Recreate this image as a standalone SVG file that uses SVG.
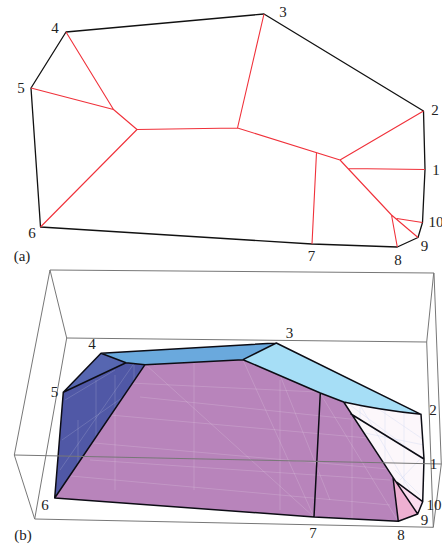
<svg xmlns="http://www.w3.org/2000/svg" width="442" height="544" viewBox="0 0 442 544">
<style>
text{font-family:"Liberation Serif","Times New Roman",serif;font-size:15px;fill:#222;text-anchor:middle}
.k{fill:none;stroke:#111;stroke-width:1.3;stroke-linejoin:round}
.r{fill:none;stroke:#f0313a;stroke-width:1.1;stroke-linejoin:round}
.b{fill:none;stroke:#777;stroke-width:1}
.g{fill:none;stroke:#fff;stroke-width:.7;opacity:.22}
.gb{fill:none;stroke:#c8d4f0;stroke-width:.7;opacity:.5}
.e{fill:none;stroke:#0c0c14;stroke-width:1.5;stroke-linejoin:round;stroke-linecap:round}
</style>
<defs>
<clipPath id="cp"><path d="M145 364.7L243 359.7L320.3 393L343.7 402L393 477.3L398.3 521.3L314 517L54.7 498Z"/></clipPath>
<clipPath id="cb"><path d="M63.3 392.3L126 362.7L145 364.7L54.7 498Z"/></clipPath>
<clipPath id="cw"><path d="M343.7 402Q380 410 421 414.3L424 459L422.7 501.7L397 482.3L393 477.3Z"/></clipPath>
</defs>
<g id="panel-a">
<g id="outline-a"><path class="k" d="M66 32L264 14L423.5 111L425 169.5L422.5 222.5L418 237.5L397.3 247L312 244L40.5 227L31 88Z"/></g>
<g id="skeleton-a"><path class="r" d="M66 32L113.5 109.5M31 88L113.5 109.5L137 129.5L237.5 128L340 160L423.5 111M40.5 227L137 129.5M264 14L237.5 128M316.5 152.5L312 244M340 160L391.5 215L418 237.5M348 168.5L425 169.5M391.5 215L397.3 247M396.7 218.5L422.5 222.5"/></g>
<text x="55" y="33">4</text><text x="21" y="93">5</text><text x="32" y="238">6</text><text x="22" y="261">(a)</text>
<text x="283" y="17">3</text><text x="435" y="115">2</text><text x="436" y="175">1</text><text x="436" y="227">10</text><text x="424.5" y="251">9</text><text x="398" y="265">8</text><text x="311.5" y="261">7</text>
</g>
<g id="panel-b">
<g id="box-back"><path class="b" d="M50 270L434 273L441.3 464L433.3 527.3L34.7 519L14.3 455L50 270L66.7 338L426.7 342L433.7 273M66.7 338L34.7 519M426.7 342L433.3 527.3"/></g>
<g id="faces">
<path id="face-top" fill="#6aa9dd" d="M101 353.3L276.3 343L243 359.7L145 364.7L126 362.7Z"/>
<path id="face-upper-right" fill="#a6def6" d="M276.3 343L421 414.3Q380 410 343.7 402L320.3 393L243 359.7Z"/>
<path id="face-left-upper" fill="#5666b1" d="M101 353.3L126 362.7L63.3 392.3Z"/>
<path id="face-left" fill="#5058a6" d="M63.3 392.3L126 362.7L145 364.7L54.7 498Z"/>
<path id="face-main" fill="#b884bb" d="M145 364.7L243 359.7L320.3 393L343.7 402L393 477.3L398.3 521.3L314 517L54.7 498Z"/>
<path id="face-right" fill="#fcf7fb" d="M343.7 402Q380 410 421 414.3L424 459L422.7 501.7L397 482.3L393 477.3Z"/>
<path id="face-pink" fill="#eeb0d2" d="M393 477.3L397 482.3L417.7 514L398.3 521.3Z"/>
<path id="face-pale" fill="#fbdcee" d="M397 482.3L422.7 501.7L417.7 514Z"/>
</g>
<g id="facets">
<g clip-path="url(#cp)"><path class="g" d="M60 440L400 470M90 460L390 480M110 415L390 440M130 383L380 395M140 397L360 420M60 475L390 505M145 364L314 517M243 360L314 517M280 375L330 500M320 393L398 521M194 362V490M115 390V490M280 380V510M352 420V520"/></g>
<g clip-path="url(#cb)"><path class="g" d="M62 440L126 395M60 470L135 362M78 420V490M96 380V480M115 375V440M134 365V420M65 400L115 370"/></g>
<g clip-path="url(#cw)"><path class="gb" d="M350 405L424 460M380 410L424 440M400 480L424 455M395 470L420 495M360 405L410 490M360 405V440M385 410V480M404 412V490M350 430L424 445"/></g>
</g>
<g id="edges-b"><path class="e" d="M101 353.3L276.3 343L421 414.3L424 459L422.7 501.7L417.7 514L398.3 521.3L314 517L54.7 498L63.3 392.3L101 353.3L126 362.7L145 364.7L243 359.7L276.3 343M63.3 392.3L126 362.7M54.7 498L145 364.7M243 359.7L320.3 393L343.7 402Q380 410 421 414.3M343.7 402L393 477.3L417.7 514M320.3 393L314 517M393 477.3L398.3 521.3M351 414L424 459M397 482.3L422.7 501.7"/></g>
<g id="box-front"><path class="b" d="M14.3 455L441.3 464"/></g>
<text x="92" y="349">4</text><text x="54.5" y="397">5</text><text x="45" y="510">6</text><text x="23" y="540">(b)</text>
<text x="289.5" y="338">3</text><text x="433" y="415">2</text><text x="433.5" y="469">1</text><text x="434" y="510">10</text><text x="424.5" y="525">9</text><text x="401" y="540">8</text><text x="313" y="538">7</text>
</g>
</svg>
